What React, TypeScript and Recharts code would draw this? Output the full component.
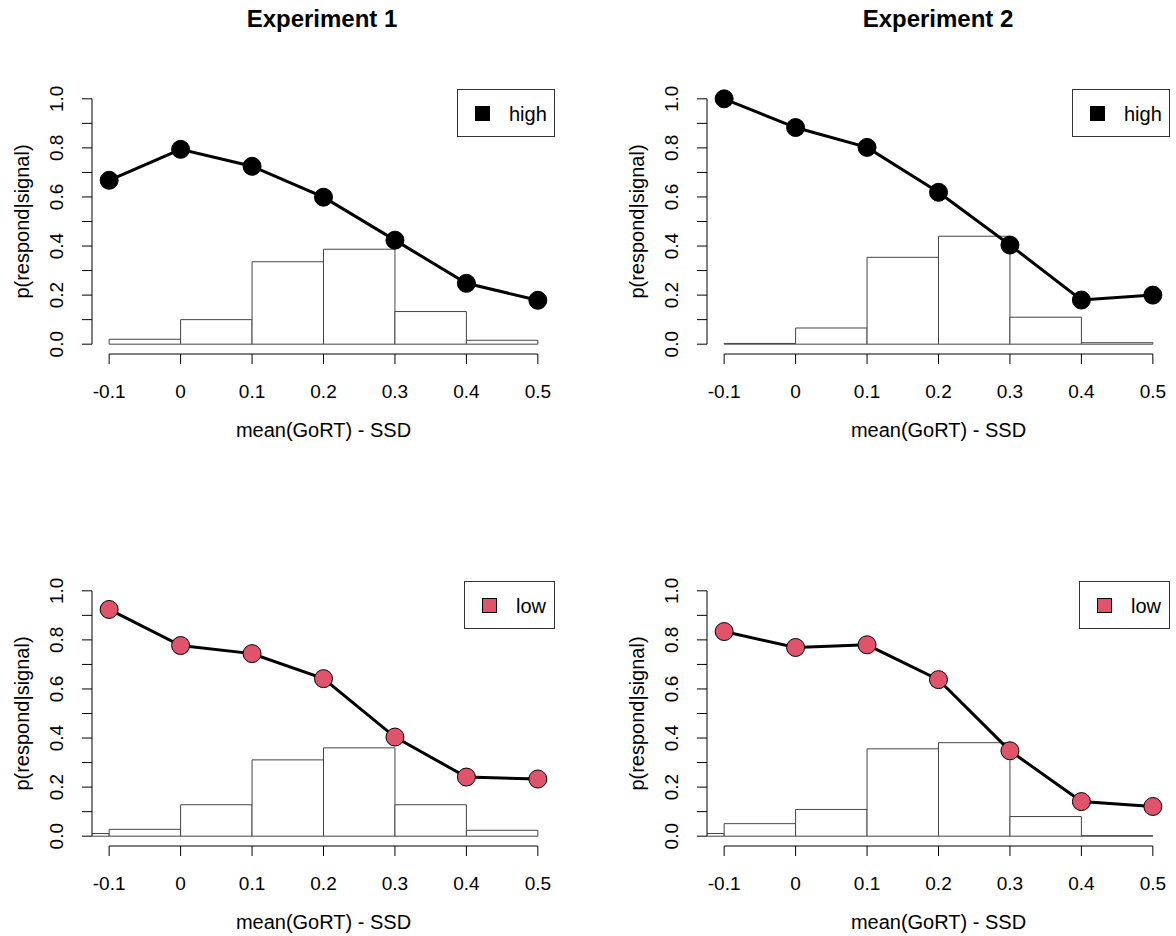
import { ComposedChart, Line, XAxis, YAxis, ReferenceArea, ReferenceLine, Label } from 'recharts';

const FONT = '"Liberation Sans", Arial, Helvetica, sans-serif';

// x positions of the points (mean(GoRT) - SSD)
const xTicks = [-0.1, 0, 0.1, 0.2, 0.3, 0.4, 0.5];
const yTicks = [0, 0.1, 0.2, 0.3, 0.4, 0.5, 0.6, 0.7, 0.8, 0.9, 1.0];
// histogram bin edges
const binEdges = [-0.2, -0.1, 0, 0.1, 0.2, 0.3, 0.4, 0.5];

// p(respond|signal)
const exp1High = [0.668, 0.794, 0.725, 0.599, 0.424, 0.248, 0.179];
const exp2High = [1.0, 0.883, 0.802, 0.619, 0.404, 0.18, 0.2];
const exp1Low = [0.924, 0.777, 0.744, 0.642, 0.404, 0.241, 0.233];
const exp2Low = [0.834, 0.769, 0.78, 0.638, 0.348, 0.141, 0.121];

// histogram proportions, one per bin
const exp1HighHist = [0, 0.02, 0.1, 0.336, 0.387, 0.133, 0.016];
const exp2HighHist = [0, 0.003, 0.066, 0.354, 0.44, 0.11, 0.006];
const exp1LowHist = [0.011, 0.028, 0.128, 0.311, 0.36, 0.128, 0.024];
const exp2LowHist = [0.011, 0.051, 0.109, 0.356, 0.381, 0.08, 0.002];

const W = 563;
const H = 375;
const PLOT_LEFT = 92;
const PLOT_TOP = 10;
const PLOT_W = 463;

const fmtX = (v: number) => (v === 0 ? '0' : String(v));

const YTick = (props: any) => {
  const { x, y, payload } = props;
  const v = payload.value as number;
  if (Math.round(v * 10) % 2 !== 0) return <g />;
  const bx = x - 17;
  return (
    <text x={bx} y={y} transform={`rotate(-90, ${bx}, ${y})`} textAnchor="middle" fontSize={19} fill="#000" fontFamily={FONT}>
      {v.toFixed(1)}
    </text>
  );
};

const YTitle = (props: any) => {
  const vb = props.viewBox || { x: 0, y: 0, height: 0 };
  const bx = vb.x + 29;
  const cy = vb.y + vb.height / 2;
  return (
    <text x={bx} y={cy} transform={`rotate(-90, ${bx}, ${cy})`} textAnchor="middle" fontSize={20} fill="#000" fontFamily={FONT}>
      p(respond|signal)
    </text>
  );
};

interface PanelProps {
  left: number;
  top: number;
  values: number[];
  hist: number[];
  color: string;
  label: string;
}

function Panel({ left, top, values, hist, color, label }: PanelProps) {
  const data = xTicks.map((x, i) => ({ x, p: values[i] }));
  const boxW = label === 'high' ? 98 : 91;
  return (
    <div style={{ position: 'absolute', left, top, width: W, height: H }}>
      <ComposedChart width={W} height={H} data={data} margin={{ top: PLOT_TOP, right: 8, bottom: 0, left: 0 }}>
        <XAxis
          dataKey="x"
          type="number"
          domain={[-0.124, 0.524]}
          allowDataOverflow
          ticks={xTicks}
          interval={0}
          tickFormatter={fmtX}
          axisLine={false}
          tickLine={{ stroke: '#000' }}
          tickSize={10}
          tickMargin={21}
          height={100}
          tick={{ fill: '#000', fontSize: 19, fontFamily: FONT }}
        >
          <Label value="mean(GoRT) - SSD" position="insideBottom" offset={17} fill="#000" fontSize={20} fontFamily={FONT} />
        </XAxis>
        <YAxis
          type="number"
          domain={[-0.04, 1.04]}
          allowDataOverflow
          ticks={yTicks}
          interval={0}
          width={PLOT_LEFT}
          axisLine={false}
          tickLine={{ stroke: '#000' }}
          tickSize={10}
          tick={YTick}
        >
          <Label content={YTitle} />
        </YAxis>
        {hist.map((h, i) =>
          h > 0 ? (
            <ReferenceArea
              key={i}
              x1={binEdges[i]}
              x2={binEdges[i + 1]}
              y1={0}
              y2={h}
              fill="#fff"
              fillOpacity={1}
              stroke="#444"
              strokeWidth={1}
              ifOverflow="hidden"
            />
          ) : null
        )}
        <ReferenceLine segment={[{ x: -0.1, y: -0.04 }, { x: 0.5, y: -0.04 }]} stroke="#000" strokeWidth={1} ifOverflow="visible" />
        <ReferenceLine segment={[{ x: -0.124, y: 0 }, { x: -0.124, y: 1 }]} stroke="#000" strokeWidth={1} ifOverflow="visible" />
        <Line
          type="linear"
          dataKey="p"
          stroke="#000"
          strokeWidth={3}
          dot={{ r: 9, fill: color, stroke: '#000', strokeWidth: 1, fillOpacity: 1 }}
          isAnimationActive={false}
        />
      </ComposedChart>
      <div
        style={{
          position: 'absolute',
          left: PLOT_LEFT + PLOT_W - boxW,
          top: PLOT_TOP,
          width: boxW - 2,
          height: 46,
          border: '1px solid #333',
          background: '#fff',
        }}
      >
        <div style={{ position: 'absolute', left: 17, top: 16, width: 13, height: 13, background: color, border: '1px solid #000' }} />
        <div style={{ position: 'absolute', left: 51, top: 14, fontSize: 20, lineHeight: '20px', fontFamily: FONT, color: '#000' }}>
          {label}
        </div>
      </div>
    </div>
  );
}

export default function App() {
  const titleStyle = (cx: number) => ({
    position: 'absolute' as const,
    left: cx - 150,
    width: 300,
    top: 7,
    textAlign: 'center' as const,
    fontSize: 24,
    lineHeight: '24px',
    fontWeight: 'bold' as const,
    fontFamily: FONT,
    color: '#000',
  });
  return (
    <div style={{ position: 'relative', width: 1176, height: 936, background: '#fff', fontFamily: FONT }}>
      <style>{'body{margin:0}'}</style>
      <div style={titleStyle(322)}>Experiment 1</div>
      <div style={titleStyle(938)}>Experiment 2</div>
      <Panel left={0} top={79} values={exp1High} hist={exp1HighHist} color="#000" label="high" />
      <Panel left={615} top={79} values={exp2High} hist={exp2HighHist} color="#000" label="high" />
      <Panel left={0} top={571} values={exp1Low} hist={exp1LowHist} color="#DF536B" label="low" />
      <Panel left={615} top={571} values={exp2Low} hist={exp2LowHist} color="#DF536B" label="low" />
    </div>
  );
}
